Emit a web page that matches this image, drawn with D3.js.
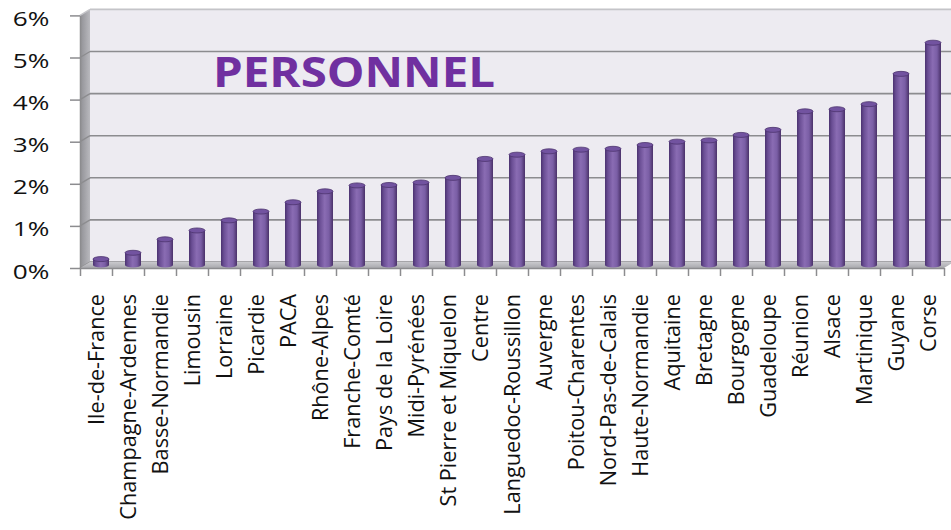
<!DOCTYPE html>
<html>
<head>
<meta charset="utf-8">
<script src="https://cdn.jsdelivr.net/npm/d3@7"></script>
<style>
  body { margin: 0; background: #fff; }
  text { font-family: "Open Sans", "Noto Sans", sans-serif; }
</style>
</head>
<body>
<svg id="chart"></svg>
<script>
// regions, sorted from lowest to highest share
var categories = ["Ile-de-France", "Champagne-Ardennes", "Basse-Normandie", "Limousin", "Lorraine",
    "Picardie", "PACA", "Rhône-Alpes", "Franche-Comté", "Pays de la Loire", "Midi-Pyrénées",
    "St Pierre et Miquelon", "Centre", "Languedoc-Roussillon", "Auvergne", "Poitou-Charentes",
    "Nord-Pas-de-Calais", "Haute-Normandie", "Aquitaine", "Bretagne", "Bourgogne", "Guadeloupe",
    "Réunion", "Alsace", "Martinique", "Guyane", "Corse"];
var values = [0.14, 0.29, 0.61, 0.82, 1.06, 1.27, 1.49, 1.75, 1.89, 1.90, 1.96, 2.07, 2.52, 2.62,
    2.70, 2.74, 2.76, 2.85, 2.93, 2.96, 3.09, 3.21, 3.65, 3.70, 3.82, 4.54, 5.28];
var yTicks = [0, 1, 2, 3, 4, 5, 6];
var chartTitle = "PERSONNEL";

var width = 951,
    height = 530;
var depthX = 10, depthY = -6;   // 3d offset of the back wall

var svg = d3.select("#chart")
    .attr("width", width)
    .attr("height", height);

var x = d3.scaleBand().domain(categories).range([80, 944]);
var y = d3.scaleLinear().domain([0, 6]).range([268, 15.4]);

var defs = svg.append("defs");

var barGrad = defs.append("linearGradient").attr("id", "barGrad");
[[0, "#4b3270"], [0.18, "#6a4e94"], [0.48, "#8a6cb3"], [0.75, "#7a5ea5"], [1, "#4a3169"]]
    .forEach(function(s) {
        barGrad.append("stop").attr("offset", s[0]).attr("stop-color", s[1]);
    });

var sideGrad = defs.append("linearGradient").attr("id", "sideGrad");
sideGrad.append("stop").attr("offset", 0).attr("stop-color", "#8f8f94");
sideGrad.append("stop").attr("offset", 1).attr("stop-color", "#b9b9be");

var floorGrad = defs.append("linearGradient").attr("id", "floorGrad")
    .attr("x1", 0).attr("y1", 0).attr("x2", 0).attr("y2", 1);
floorGrad.append("stop").attr("offset", 0).attr("stop-color", "#c9c9cd");
floorGrad.append("stop").attr("offset", 1).attr("stop-color", "#a9a9ae");

//side wall
svg.append("polygon")
    .attr("points", [[80, y(6)], [80 + depthX, y(6) + depthY], [80 + depthX, y(0) + depthY], [80, y(0)]].join(" "))
    .attr("fill", "url(#sideGrad)");

//back wall
svg.append("rect")
    .attr("x", 80 + depthX)
    .attr("y", y(6) + depthY)
    .attr("width", width - 80 - depthX)
    .attr("height", y(0) - y(6))
    .attr("fill", "#edebf1");

//grid lines on both walls
yTicks.forEach(function(t) {
    var c = t === 6 ? "#c4c4c8" : "#8c8c8f";
    svg.append("line")
        .attr("x1", 80 + depthX).attr("x2", width)
        .attr("y1", y(t) + depthY).attr("y2", y(t) + depthY)
        .attr("stroke", c).attr("stroke-width", 1.6);
    svg.append("line")
        .attr("x1", 80).attr("x2", 80 + depthX)
        .attr("y1", y(t)).attr("y2", y(t) + depthY)
        .attr("stroke", c).attr("stroke-width", 1.4);
});

//floor
svg.append("polygon")
    .attr("points", [[80, y(0)], [944, y(0)], [944 + depthX, y(0) + depthY], [80 + depthX, y(0) + depthY]].join(" "))
    .attr("fill", "url(#floorGrad)");

//y axis
var yAxis = svg.append("g")
    .attr("transform", "translate(80,0)")
    .call(d3.axisLeft(y).tickValues(yTicks).tickSize(10).tickSizeOuter(0)
        .tickFormat(function(d) { return d + "%"; }));
yAxis.select(".domain").attr("stroke", "#8c8c8f").attr("stroke-width", 1.5);
yAxis.selectAll(".tick line").attr("stroke", "#8c8c8f").attr("stroke-width", 1.5);
yAxis.selectAll(".tick text")
    .attr("x", -67.3)
    .attr("y", 3)
    .attr("dy", "0.35em")
    .attr("text-anchor", "start")
    .attr("textLength", 36.6)
    .attr("lengthAdjust", "spacingAndGlyphs")
    .attr("fill", "#111")
    .style("font-family", "'Open Sans', sans-serif")
    .style("font-size", "20px");

//x axis, ticks between categories
var xEdges = d3.scaleLinear().domain([0, categories.length]).range(x.range());
var xAxis = svg.append("g")
    .attr("transform", "translate(0," + y(0) + ")")
    .call(d3.axisBottom(xEdges).tickValues(d3.range(categories.length + 1)).tickSize(8).tickSizeOuter(0)
        .tickFormat(""));
xAxis.select(".domain").attr("stroke", "#8c8c8f").attr("stroke-width", 1.5);
xAxis.selectAll(".tick line").attr("stroke", "#8c8c8f").attr("stroke-width", 1.5);

//cylinders
var rx = x.bandwidth() / 4;
var bars = svg.append("g").selectAll("g").data(categories).enter().append("g")
    .attr("transform", function(d) {
        return "translate(" + (x(d) + x.bandwidth() / 2 + depthX / 2) + "," + (depthY / 2) + ")";
    });
bars.append("ellipse")
    .attr("cx", 0).attr("cy", y(0))
    .attr("rx", rx).attr("ry", 2.5)
    .attr("fill", "url(#barGrad)");
bars.append("rect")
    .attr("x", -rx)
    .attr("width", rx * 2)
    .attr("y", function(d, i) { return y(values[i]); })
    .attr("height", function(d, i) { return y(0) - y(values[i]); })
    .attr("fill", "url(#barGrad)");
bars.append("ellipse")
    .attr("cx", 0).attr("cy", function(d, i) { return y(values[i]); })
    .attr("rx", rx).attr("ry", 2.5)
    .attr("fill", "#7253a0")
    .attr("stroke", "#4c336f")
    .attr("stroke-width", 0.8);

//category labels
var labels = svg.append("g").selectAll("g").data(categories).enter().append("g")
    .attr("transform", function(d) {
        return "translate(" + (x(d) + x.bandwidth() / 2) + ",294) rotate(-90)";
    });
var labelText = labels.append("text")
    .attr("text-anchor", "end")
    .attr("dy", "0.36em")
    .attr("fill", "#111")
    .style("font-size", "22px")
    .text(function(d) { return d; });

// squeeze labels along their length so they match the source
var refLen = 0;
labelText.each(function(d) {
    if (d === "Champagne-Ardennes" || d === "Ile-de-France") refLen += this.getComputedTextLength();
});
var stretch = (220 + 137) / refLen;
labelText.attr("transform", "scale(" + stretch + ",1)");

//title
svg.append("text")
    .attr("x", 213)
    .attr("y", 87)
    .attr("textLength", 282)
    .attr("lengthAdjust", "spacingAndGlyphs")
    .attr("fill", "#7030a0")
    .style("font-weight", "bold")
    .style("font-size", "40.6px")
    .text(chartTitle);
</script>
</body>
</html>
